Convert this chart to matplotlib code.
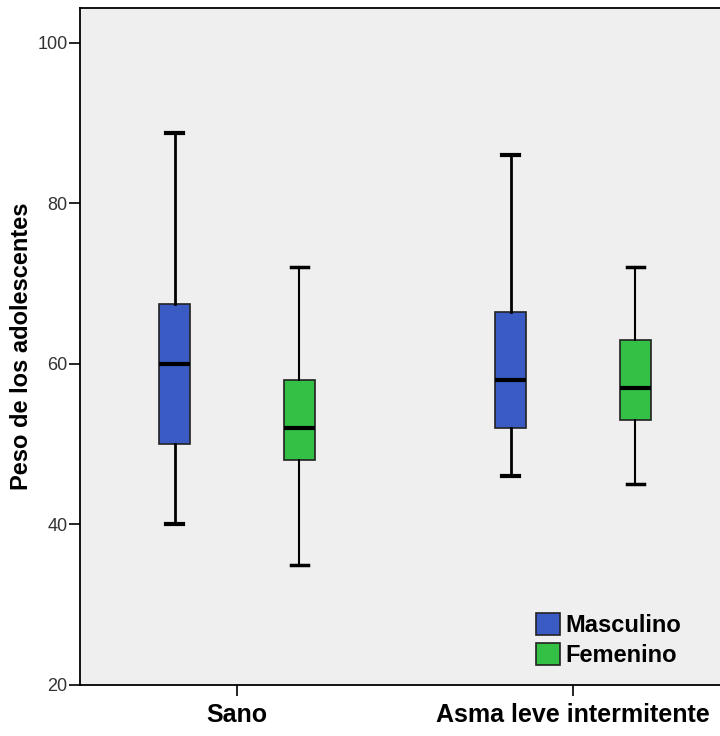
import matplotlib.pyplot as plt
import numpy as np

plt.rcParams['font.family'] = ['Liberation Sans', 'DejaVu Sans']

groups = ['Sano', 'Asma leve intermitente']
sexes = ['Masculino', 'Femenino']
colors = ['#3a5bc4', '#33c045']

# five-number summaries per sex, one value per group
whislo = {'Masculino': [40, 46], 'Femenino': [35, 45]}
q1 = {'Masculino': [50, 52], 'Femenino': [48, 53]}
med = {'Masculino': [60, 58], 'Femenino': [52, 57]}
q3 = {'Masculino': [67.5, 66.5], 'Femenino': [58, 63]}
whishi = {'Masculino': [88.7, 86], 'Femenino': [72, 72]}

yticks = [20, 40, 60, 80, 100]

fig = plt.figure(figsize=(7.2, 7.36), dpi=100)
ax = fig.add_axes([0.1111, 0.0693, 0.9028, 0.9198])
ax.set_facecolor('#efefef')

x = np.arange(len(groups))
offsets = [-0.185, 0.185]
whisk_lw = [2.0, 1.5]

for sex, col, off, lw in zip(sexes, colors, offsets, whisk_lw):
    stats = []
    for i in range(len(groups)):
        stats.append({'whislo': whislo[sex][i], 'q1': q1[sex][i], 'med': med[sex][i],
                      'q3': q3[sex][i], 'whishi': whishi[sex][i], 'fliers': []})
    ax.bxp(stats, positions=x + off, widths=0.093, patch_artist=True,
           showfliers=False, manage_ticks=False,
           boxprops=dict(facecolor=col, edgecolor='#222222', linewidth=1.2),
           medianprops=dict(color='black', linewidth=3),
           whiskerprops=dict(color='black', linewidth=lw),
           capprops=dict(color='black', linewidth=lw + 1),
           capwidths=0.05)
    ax.bar([0], [0], color=col, edgecolor='#222222', linewidth=1.2, label=sex)

ax.set_xlim(-0.467, 1.467)
ax.set_ylim(20, 104.3)
ax.set_yticks(yticks)
ax.set_yticklabels([str(t) for t in yticks], fontsize=13, color='#333333')
ax.set_xticks(x)
ax.set_xticklabels(groups, fontsize=18, fontweight='bold')
ax.tick_params(axis='y', length=8, width=1.2, direction='out', pad=1)
ax.tick_params(axis='x', length=8, width=1.2, direction='out', pad=5)
ax.set_ylabel('Peso de los adolescentes', fontsize=17, fontweight='bold')
ax.yaxis.set_label_coords(-0.073, 0.5)

for s in ['left', 'bottom', 'top']:
    ax.spines[s].set_linewidth(1.3)
ax.spines['right'].set_visible(False)

ax.legend(loc='lower right', bbox_to_anchor=(0.925, 0.027), frameon=False,
          borderpad=0, borderaxespad=0,
          prop={'size': 17, 'weight': 'bold'}, handlelength=1.0, handleheight=1.05,
          handletextpad=0.25, labelspacing=0.25)

fig.savefig('out.png', dpi=100, facecolor='white')
